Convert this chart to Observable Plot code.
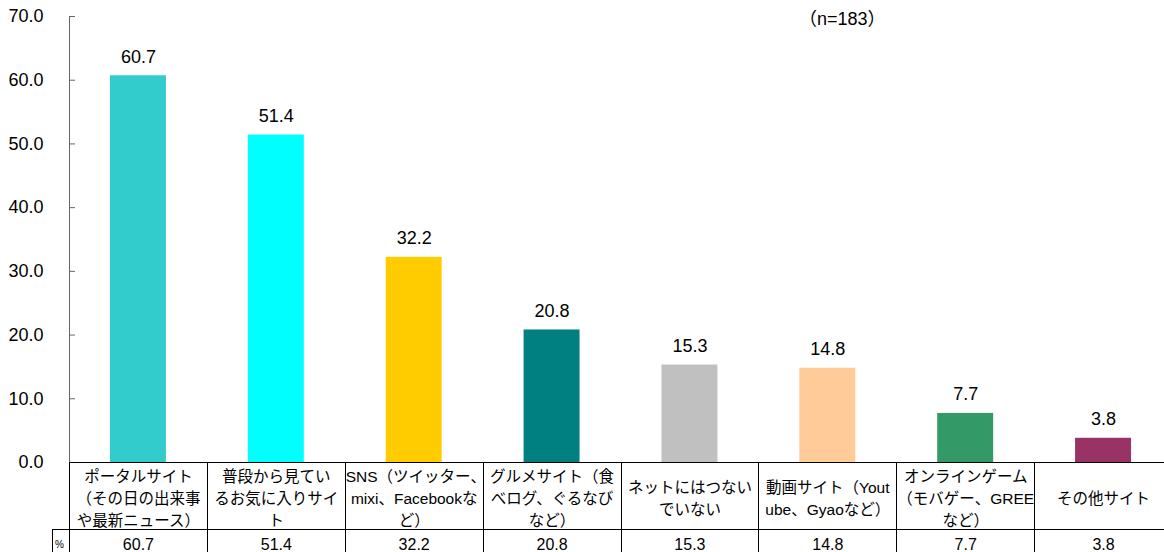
<!DOCTYPE html>
<html><head><meta charset="utf-8">
<script src="https://cdn.jsdelivr.net/npm/d3@7"></script>
<script src="https://cdn.jsdelivr.net/npm/@observablehq/plot@0.6"></script>
<style>
html,body{margin:0;padding:0;background:#fff;overflow:hidden;width:1164px;height:552px}
#wrap{position:relative;width:1164px;height:552px;overflow:hidden}
#chart{position:absolute;left:0;top:0}
#note{position:absolute;left:799px;top:8px;font-size:18px;line-height:22px;font-family:"Liberation Sans","Noto Sans CJK JP",sans-serif;color:#000;white-space:nowrap}
table{position:absolute;left:52px;top:462px;border-collapse:collapse;table-layout:fixed;font-family:"Liberation Sans","Noto Sans CJK JP",sans-serif;color:#000}
td{padding:0;text-align:center;white-space:nowrap;overflow:visible}
tr.cat td{height:66px;font-size:15.5px;line-height:22px;border:1px solid #000;vertical-align:middle}
tr.cat td div{position:relative;top:3px}
tr.cat td.blank{border:none}
tr.val td{height:18px;padding-top:5px;font-size:16px;line-height:20px;border:1px solid #000;vertical-align:top}
tr.val td.pct{font-size:10px;text-align:left;padding-left:2px;padding-top:9px;line-height:12px}
</style>
</head><body>
<div id="wrap">
  <div id="chart"></div>
  <div id="note"></div>
  <table id="tbl"></table>
</div>
<script>
// ---- data ----
const categoryLines = [
  ["ポータルサイト", "（その日の出来事", "や最新ニュース）"],
  ["普段から見てい", "るお気に入りサイ", "ト"],
  ["SNS（ツイッター、", "mixi、Facebookな", "ど）"],
  ["グルメサイト（食", "べログ、ぐるなび", "など）"],
  ["ネットにはつない", "でいない"],
  ["動画サイト（Yout", "ube、Gyaoなど）"],
  ["オンラインゲーム", "（モバゲー、GREE", "など）"],
  ["その他サイト"]
];
const categories = categoryLines.map(l => l.join(""));
const values = [60.7, 51.4, 32.2, 20.8, 15.3, 14.8, 7.7, 3.8];
const colors = ["#33CCCC", "#00FFFF", "#FFCC00", "#008080", "#C0C0C0", "#FFCC99", "#339966", "#993366"];
const yTicks = [0, 10, 20, 30, 40, 50, 60, 70];
const sampleNote = "（n=183）";
const rowLabel = "%";

const data = categories.map((c, i) => ({cat: c, value: values[i]}));
const font = '"Liberation Sans", "Noto Sans CJK JP", sans-serif';

const chart = Plot.plot({
  width: 1164,
  height: 552,
  marginTop: 16,
  marginBottom: 90,
  marginLeft: 69,
  marginRight: 0,
  x: {domain: categories, range: [69, 1172], paddingInner: 0.594, paddingOuter: 0.297, round: false, axis: null},
  y: {domain: [0, 70], axis: null},
  color: {domain: categories, range: colors},
  style: {fontFamily: font, background: "white", color: "#000"},
  marks: [
    Plot.frame({anchor: "left", stroke: "#666"}),
    Plot.axisY(yTicks, {tickFormat: d => d.toFixed(1), tickSize: 6, dx: 6, tickPadding: 26, fontSize: 18, stroke: "#666", fill: "#000", label: null}),
    Plot.barY(data, {x: "cat", y: "value", fill: "cat"}),
    Plot.text(data, {x: "cat", y: "value", text: d => d.value.toFixed(1), dy: -19, fontSize: 18, fill: "#000"})
  ]
});
document.getElementById("chart").appendChild(chart);
document.getElementById("note").textContent = sampleNote;

// data table below the chart
const tbl = document.getElementById("tbl");
const cg = document.createElement("colgroup");
const c0 = document.createElement("col"); c0.style.width = "17px"; cg.appendChild(c0);
const step = (1172 - 69) / categories.length;
categories.forEach(() => { const c = document.createElement("col"); c.style.width = step + "px"; cg.appendChild(c); });
tbl.appendChild(cg);
tbl.style.width = (17 + step * categories.length) + "px";
const r1 = document.createElement("tr"); r1.className = "cat";
const b = document.createElement("td"); b.className = "blank"; r1.appendChild(b);
categoryLines.forEach(lines => {
  const td = document.createElement("td");
  const div = document.createElement("div");
  lines.forEach((ln, i) => { if (i) div.appendChild(document.createElement("br")); div.appendChild(document.createTextNode(ln)); });
  td.appendChild(div);
  r1.appendChild(td);
});
tbl.appendChild(r1);
const r2 = document.createElement("tr"); r2.className = "val";
const p = document.createElement("td"); p.className = "pct"; p.textContent = rowLabel; r2.appendChild(p);
values.forEach(v => { const td = document.createElement("td"); td.textContent = v.toFixed(1); r2.appendChild(td); });
tbl.appendChild(r2);
</script>
</body></html>
